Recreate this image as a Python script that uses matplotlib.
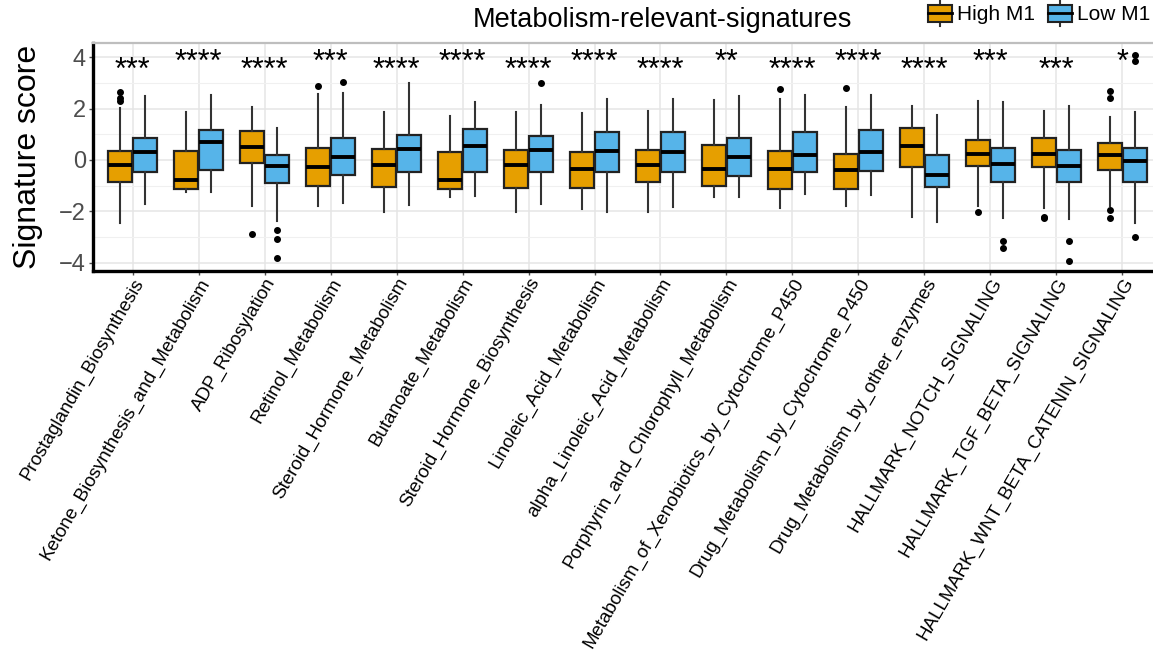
import numpy as np
import matplotlib
matplotlib.use("Agg")
import matplotlib.pyplot as plt
from matplotlib.legend_handler import HandlerBase
from matplotlib.patches import Rectangle
from matplotlib.lines import Line2D

plt.rcParams['font.family'] = ['Liberation Sans', 'DejaVu Sans']

signatures = ["Prostaglandin_Biosynthesis", "Ketone_Biosynthesis_and_Metabolism",
              "ADP_Ribosylation", "Retinol_Metabolism", "Steroid_Hormone_Metabolism",
              "Butanoate_Metabolism", "Steroid_Hormone_Biosynthesis",
              "Linoleic_Acid_Metabolism", "alpha_Linoleic_Acid_Metabolism",
              "Porphyrin_and_Chlorophyll_Metabolism",
              "Metabolism_of_Xenobiotics_by_Cytochrome_P450",
              "Drug_Metabolism_by_Cytochrome_P450", "Drug_Metabolism_by_other_enzymes",
              "HALLMARK_NOTCH_SIGNALING", "HALLMARK_TGF_BETA_SIGNALING",
              "HALLMARK_WNT_BETA_CATENIN_SIGNALING"]

# High M1 box stats
hi_lo  = [-2.46, -1.25, -1.80, -1.80, -2.04, -1.44, -2.01, -1.91, -2.04, -1.43, -1.85, -1.81, -2.23, -1.81, -1.85, -1.78]
hi_q1  = [-0.84, -1.13, -0.10, -1.03, -1.07, -1.13, -1.08, -1.08, -0.87, -1.03, -1.12, -1.12, -0.28, -0.25, -0.28, -0.38]
hi_med = [-0.19, -0.78, 0.52, -0.27, -0.18, -0.78, -0.20, -0.34, -0.19, -0.36, -0.36, -0.38, 0.55, 0.24, 0.24, 0.19]
hi_q3  = [0.36, 0.36, 1.11, 0.47, 0.42, 0.32, 0.38, 0.32, 0.38, 0.59, 0.34, 0.25, 1.25, 0.79, 0.85, 0.66]
hi_hi  = [2.04, 1.85, 2.06, 2.55, 1.85, 1.72, 1.85, 1.82, 1.90, 2.32, 2.36, 2.06, 2.10, 2.29, 1.89, 1.69]
hi_out = [[2.65, 2.42, 2.30], [], [-2.89], [2.89], [], [], [], [], [], [], [2.76], [2.80],
          [], [-2.04], [-2.20, -2.27], [2.68, 2.40, -1.95, -2.27]]

# Low M1 box stats
lo_lo  = [-1.72, -1.24, -2.39, -1.66, -1.77, -1.40, -1.72, -2.01, -1.82, -1.43, -1.31, -1.38, -2.42, -2.25, -2.29, -2.46]
lo_q1  = [-0.47, -0.38, -0.88, -0.57, -0.48, -0.47, -0.47, -0.45, -0.48, -0.61, -0.46, -0.42, -1.07, -0.87, -0.87, -0.84]
lo_med = [0.31, 0.69, -0.23, 0.13, 0.41, 0.54, 0.37, 0.36, 0.31, 0.10, 0.19, 0.31, -0.57, -0.15, -0.24, -0.04]
lo_q3  = [0.87, 1.17, 0.20, 0.87, 0.96, 1.21, 0.92, 1.07, 1.08, 0.85, 1.08, 1.15, 0.18, 0.48, 0.39, 0.45]
lo_hi  = [2.48, 2.54, 1.24, 2.61, 2.98, 2.25, 2.14, 2.38, 2.38, 2.50, 2.51, 2.52, 1.75, 2.25, 2.09, 1.87]
lo_out = [[], [], [-2.71, -3.06, -3.80], [3.03], [], [], [3.00], [], [], [], [], [],
          [], [-3.15, -3.44], [-3.15, -3.95], [4.08, 3.85, -2.99]]

sig_labels = ["***", "****", "****", "***", "****", "****", "****", "****",
              "****", "**", "****", "****", "****", "***", "***", "*"]
sig_y = [3.15, 3.47] * 8

groups = ["High M1", "Low M1"]
colors = ["#E69F00", "#56B4E9"]


def make_stats(lo, q1, med, q3, hi, out):
    return [dict(whislo=a, q1=b, med=c, q3=d, whishi=e, fliers=f)
            for a, b, c, d, e, f in zip(lo, q1, med, q3, hi, out)]


fig = plt.figure(figsize=(11.53, 6.63), dpi=100)
ax = fig.add_axes([93 / 1153, 392 / 663, 1069 / 1153, 228 / 663])

x = np.arange(1, len(signatures) + 1)
all_stats = [make_stats(hi_lo, hi_q1, hi_med, hi_q3, hi_hi, hi_out),
             make_stats(lo_lo, lo_q1, lo_med, lo_q3, lo_hi, lo_out)]

for k, (stats, col) in enumerate(zip(all_stats, colors)):
    ax.bxp(stats, positions=x + (k - 0.5) * 0.375, widths=0.36, patch_artist=True,
           showcaps=False,
           boxprops=dict(facecolor=col, edgecolor="#222222", linewidth=1.6),
           medianprops=dict(color="black", linewidth=2.8),
           whiskerprops=dict(color="#333333", linewidth=1.5),
           flierprops=dict(marker="o", markersize=4, markerfacecolor="black",
                           markeredgecolor="black"),
           zorder=3)

for xi, lab, yy in zip(x, sig_labels, sig_y):
    ax.text(xi, yy, lab, ha="center", va="baseline", fontsize=22, zorder=4)

ax.set_xlim(0.4, 16.6)
ax.set_ylim(-4.32, 4.55)
ax.set_xticks(x)
ax.set_xticklabels(signatures, rotation=60, ha="right", va="top",
                   rotation_mode="anchor", fontsize=13.5)
ax.set_yticks([-4, -2, 0, 2, 4])
ax.set_yticklabels(["\u22124", "\u22122", "0", "2", "4"])
ax.set_yticks([-3, -1, 1, 3], minor=True)
ax.tick_params(axis="y", which="major", labelsize=17, labelcolor="#4D4D4D",
               color="#4D4D4D", length=3, width=1, pad=2)
ax.tick_params(axis="y", which="minor", length=0)
ax.tick_params(axis="x", color="#4D4D4D", length=3, width=1, pad=0)
ax.grid(True, which="major", color="#E5E5E5", linewidth=1.1, zorder=0)
ax.grid(True, which="minor", axis="y", color="#F0F0F0", linewidth=0.8, zorder=0)
ax.set_axisbelow(True)

for side in ["left", "bottom"]:
    ax.spines[side].set_color("black")
    ax.spines[side].set_linewidth(2.4)
for side in ["top", "right"]:
    ax.spines[side].set_color("#BEBEBE")
    ax.spines[side].set_linewidth(1.6)

ax.set_ylabel("Signature score", fontsize=23)
ax.yaxis.set_label_coords(-0.047, 0.5)

fig.text(662 / 1153, 1 - 20 / 663, "Metabolism-relevant-signatures",
         ha="center", va="center", fontsize=19.5)


class BoxKey(HandlerBase):
    def create_artists(self, legend, orig, xd, yd, w, h, fs, trans):
        c = orig.get_facecolor()
        mid = yd + h / 2
        bx = Rectangle((xd, mid - 0.58 * h), w, 1.16 * h, facecolor=c,
                       edgecolor="#222222", linewidth=1.5, transform=trans)
        wl = Line2D([xd + w / 2] * 2, [mid - 0.86 * h, mid + 0.86 * h],
                    color="#333333", linewidth=1.5, transform=trans)
        md = Line2D([xd, xd + w], [mid] * 2, color="black",
                    linewidth=2, transform=trans)
        return [wl, bx, md]


handles = [Rectangle((0, 0), 1, 1, facecolor=c) for c in colors]
fig.legend(handles, groups, handler_map={Rectangle: BoxKey()}, loc="center right",
           bbox_to_anchor=(1150 / 1153, 1 - 15 / 663), ncol=2, frameon=False,
           fontsize=15, handlelength=1.15, handletextpad=0.25, columnspacing=0.6,
           borderpad=0, borderaxespad=0)

fig.savefig("out.png", dpi=100, facecolor="white")
